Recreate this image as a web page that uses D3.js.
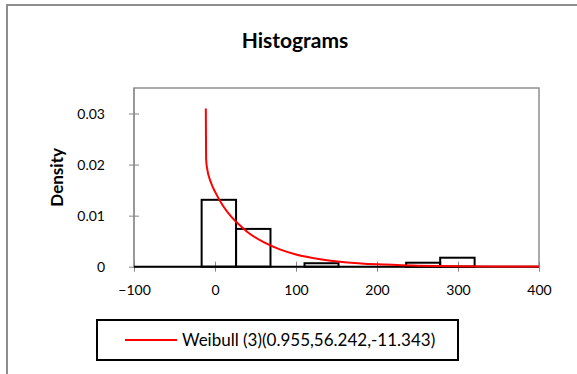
<!DOCTYPE html>
<html>
<head>
<meta charset="utf-8">
<script src="https://cdn.jsdelivr.net/npm/d3@7"></script>
<style>
  body { margin: 0; background: #fff; }
  svg { display: block; font-family: Lato, "Open Sans", sans-serif; }
  .axis path, .axis line { stroke: #868686; }
  .axis text { fill: #000; font-size: 14px; font-family: Lato, sans-serif; }
</style>
</head>
<body>
<svg id="svg" width="577" height="374"></svg>
<script>
// histogram bins (edges + density per bin)
var binEdges = [-16.5, 26, 68.5, 110.5, 152.5, 194.5, 236, 278, 320.5];
var binDensity = [0.0131, 0.0074, 0, 0.00068, 0, 0, 0.00078, 0.00176];

// fitted Weibull (3) density, read at a handful of x positions
var curveX = [-11.34, -11, -10, -5, 0, 10, 20, 30, 40, 60, 80, 100, 130, 160, 200, 250, 300, 350, 400];
var curveY = [0.031, 0.0212, 0.0195, 0.0165, 0.0147, 0.0119, 0.0098, 0.0082, 0.0068, 0.0048, 0.0034,
              0.0024, 0.00146, 0.00089, 0.00046, 0.00021, 0.00009, 0.00004, 0.00002];

var xTicks = [-100, 0, 100, 200, 300, 400];
var yTicks = [0, 0.01, 0.02, 0.03];
var legendLabel = "Weibull (3)(0.955,56.242,-11.343)";

var svg = d3.select("#svg");

// chart frame
svg.append("rect")
    .attr("x", 7).attr("y", 5)
    .attr("width", 600).attr("height", 400)
    .attr("fill", "#fff")
    .attr("stroke", "#8e8e8e")
    .attr("stroke-width", 2);

var xScale = d3.scaleLinear()
    .domain([-100, 400])
    .range([134, 539]);

var yScale = d3.scaleLinear()
    .domain([0, 0.035])
    .range([266.7, 88]);

// plot area border
svg.append("rect")
    .attr("x", xScale(-100)).attr("y", yScale(0.035))
    .attr("width", xScale(400) - xScale(-100))
    .attr("height", yScale(0) - yScale(0.035))
    .attr("fill", "none")
    .attr("stroke", "#8e8e8e")
    .attr("stroke-width", 1.5);

svg.append("text")
    .attr("x", 295).attr("y", 48)
    .attr("text-anchor", "middle")
    .style("font-weight", "bold")
    .style("font-size", "21px")
    .text("Histograms");

//////////////////////////////////////////////////////////////
//Axes

var yAxis = svg.append("g")
    .attr("class", "axis")
    .attr("transform", "translate(" + xScale(-100) + ",0)")
    .call(d3.axisLeft(yScale)
        .tickValues(yTicks)
        .tickSize(5)
        .tickFormat(function(d) { return d === 0 ? "0" : d3.format(".2f")(d); }));
yAxis.select(".domain").remove();
yAxis.selectAll(".tick line").attr("x1", 5);
yAxis.selectAll(".tick text").attr("x", -29);

var xAxis = svg.append("g")
    .attr("class", "axis")
    .attr("transform", "translate(0," + yScale(0) + ")")
    .call(d3.axisBottom(xScale)
        .tickValues(xTicks)
        .tickSize(5)
        .tickFormat(d3.format("d")));
xAxis.select(".domain").remove();
xAxis.selectAll(".tick line").attr("y1", -5);
xAxis.selectAll(".tick text").attr("y", 18).attr("dy", "0.71em");

svg.append("line")
    .attr("x1", xScale(-100)).attr("x2", xScale(-100))
    .attr("y1", yScale(0.035)).attr("y2", yScale(0))
    .attr("stroke", "#868686");

svg.append("text")
    .attr("transform", "translate(63," + ((yScale(0) + yScale(0.035)) / 2) + ") rotate(-90)")
    .attr("text-anchor", "middle")
    .style("font-weight", "bold")
    .style("font-size", "17px")
    .text("Density");

//////////////////////////////////////////////////////////////
//Histogram bars

var bins = binDensity.map(function(d, i) {
    return { x0: binEdges[i], x1: binEdges[i + 1], density: d };
});

svg.append("line")
    .attr("x1", xScale(-100)).attr("x2", xScale(400))
    .attr("y1", yScale(0)).attr("y2", yScale(0))
    .attr("stroke", "#000")
    .attr("stroke-width", 2);

svg.selectAll("rect.bar")
    .data(bins.filter(function(b) { return b.density > 0; }))
    .enter()
    .append("rect")
    .attr("class", "bar")
    .attr("x", function(b) { return xScale(b.x0); })
    .attr("y", function(b) { return yScale(b.density); })
    .attr("width", function(b) { return xScale(b.x1) - xScale(b.x0); })
    .attr("height", function(b) { return yScale(0) - yScale(b.density); })
    .attr("fill", "none")
    .attr("stroke", "#000")
    .attr("stroke-width", 2);

//////////////////////////////////////////////////////////////
//Weibull curve

var curvePts = curveX.map(function(x, i) { return [x, curveY[i]]; });

var line = d3.line()
    .x(function(d) { return xScale(d[0]); })
    .y(function(d) { return yScale(d[1]); })
    .curve(d3.curveMonotoneX);

svg.append("path")
    .datum(curvePts)
    .attr("d", line)
    .attr("fill", "none")
    .attr("stroke", "#ff0000")
    .attr("stroke-width", 2);

//////////////////////////////////////////////////////////////
//Legend

var legend = svg.append("g");

legend.append("rect")
    .attr("x", 97).attr("y", 320)
    .attr("width", 361).attr("height", 40)
    .attr("fill", "#fff")
    .attr("stroke", "#000")
    .attr("stroke-width", 2);

legend.append("line")
    .attr("x1", 125).attr("x2", 177)
    .attr("y1", 340).attr("y2", 340)
    .attr("stroke", "#ff0000")
    .attr("stroke-width", 2);

legend.append("text")
    .attr("x", 182).attr("y", 346)
    .style("font-size", "17px")
    .text(legendLabel);
</script>
</body>
</html>
